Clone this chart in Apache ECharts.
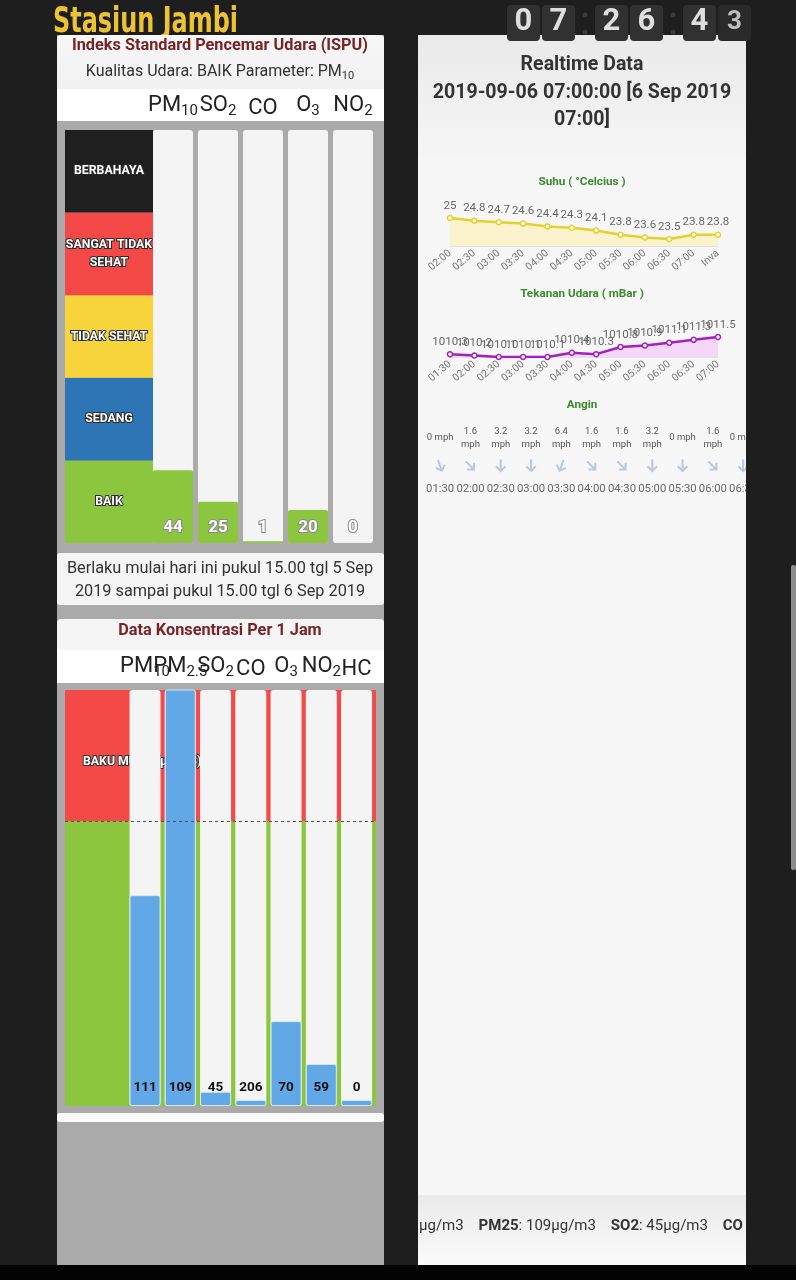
<!DOCTYPE html>
<html><head><meta charset="utf-8">
<script src="https://cdn.jsdelivr.net/npm/echarts@6/dist/echarts.min.js"></script>
<style>html,body{margin:0;padding:0;background:#1e1e1e;overflow:hidden}#c{width:796px;height:1280px}</style>
</head><body><div id="c"></div>
<script>
// ---------------- DATA ----------------
const ispuParams = ['PM{s|10}', 'SO{s|2}', 'CO', 'O{s|3}', 'NO{s|2}'];
const ispuValues = [44, 25, 1, 20, 0];
const ispuBands = ['BAIK', 'SEDANG', 'TIDAK SEHAT', 'SANGAT TIDAK\nSEHAT', 'BERBAHAYA'];
const ispuBandSize = [50, 50, 50, 50, 50];

const concParams = ['PM{s|10}', 'PM{s|2.5}', 'SO{s|2}', 'CO', 'O{s|3}', 'NO{s|2}', 'HC'];
const concValues = [111, 109, 45, 206, 70, 59, 0];
const concLimits = [150, 65, 900, 30000, 235, 400, 160];
const concLimitLabels = ['150', '65', '900', '30.000', '235', '400', '160'];
const bakuMutuPct = 100;
const concAxisMax = 146;

const suhuTimes = ['02:00', '02:30', '03:00', '03:30', '04:00', '04:30', '05:00', '05:30', '06:00', '06:30', '07:00', 'Inva'];
const suhuValues = [25, 24.8, 24.7, 24.6, 24.4, 24.3, 24.1, 23.8, 23.6, 23.5, 23.8, 23.8];

const tekananTimes = ['01:30', '02:00', '02:30', '03:00', '03:30', '04:00', '04:30', '05:00', '05:30', '06:00', '06:30', '07:00'];
const tekananValues = [1010.3, 1010.2, 1010.1, 1010.1, 1010.1, 1010.4, 1010.3, 1010.8, 1010.9, 1011.1, 1011.3, 1011.5];

const anginTimes = ['01:30', '02:00', '02:30', '03:00', '03:30', '04:00', '04:30', '05:00', '05:30', '06:00', '06:30', '07:00'];
const anginSpeeds = ['0', '1.6', '3.2', '3.2', '6.4', '1.6', '1.6', '3.2', '0', '1.6', '0', '1.6'];
const anginDir = [160, 135, 180, 180, 200, 135, 135, 180, 180, 135, 180, 180];

const clockDigits = ['0', '7', '2', '6', '4', '3'];

// ---------------- STYLE ----------------
const FONT = 'Roboto, "Noto Sans", sans-serif';
const bandColors = ['#8cc63e', '#2e75b6', '#f8d43c', '#f44a47', '#1f1f1f'];
const DARK = '#1e1e1e';

const chart = echarts.init(document.getElementById('c'), null, { width: 796, height: 1280 });

const G = [];
function rect(x, y, w, h, fill, z, r) { G.push({ type: 'rect', z: z || 0, silent: true, shape: { x: x, y: y, width: w, height: h, r: r || 0 }, style: { fill: fill } }); }
function txt(x, y, t, st, z, extra) { G.push(Object.assign({ type: 'text', z: z || 0, silent: true, x: x, y: y, style: Object.assign({ text: t, fontFamily: FONT, align: 'center', verticalAlign: 'middle' }, st) }, extra || {})); }
function grad(a, b) { return new echarts.graphic.LinearGradient(0, 0, 0, 1, [{ offset: 0, color: a }, { offset: 1, color: b }]); }

// page
rect(0, 0, 796, 1280, DARK);
rect(0, 1265, 796, 15, '#030303');
txt(53, 5, 'Stasiun Jambi', { align: 'left', verticalAlign: 'top', fontFamily: '"DejaVu Sans", sans-serif', fontWeight: 'bold', fontSize: 36, fill: '#edc332' }, 0, { scaleX: 0.665 });

// left panel
rect(57, 35, 327, 1230, '#aaaaaa');
rect(57, 35, 327, 54, grad('#f7f7f7', '#f1f1f1'), 0, [4, 4, 0, 0]);
rect(57, 89, 327, 32, '#ffffff');
txt(220, 46, 'Indeks Standard Pencemar Udara (ISPU)', { fontSize: 16.3, fontWeight: 'bold', fill: '#7b2226' });
txt(220, 72, 'Kualitas Udara: BAIK Parameter: PM{s|10}', { fontSize: 16, fill: '#333', rich: { s: { fontSize: 11, fill: '#333', fontFamily: FONT, padding: [9, 0, 0, 0] } } });
rect(57, 553, 327, 52, '#f5f5f5', 0, 3);
txt(220, 580, 'Berlaku mulai hari ini pukul 15.00 tgl 5 Sep\n2019 sampai pukul 15.00 tgl 6 Sep 2019', { fontSize: 16.3, fill: '#333', lineHeight: 23 });
rect(57, 619, 327, 31, '#f5f5f5', 0, [4, 4, 0, 0]);
txt(220, 631, 'Data Konsentrasi Per 1 Jam', { fontSize: 16.3, fontWeight: 'bold', fill: '#7b2226' });
rect(57, 650, 327, 33, '#ffffff');
rect(57, 1113, 327, 9, '#fafafa', 0, 3);

// right panel
rect(418, 35, 328, 1230, '#f7f7f7');
rect(418, 35, 328, 122, grad('#eaeaea', '#f5f5f5'));
txt(582, 65, 'Realtime Data', { fontSize: 19.5, fontWeight: 'bold', fill: '#333' });
txt(582, 93, '2019-09-06 07:00:00 [6 Sep 2019', { fontSize: 19.6, fontWeight: 'bold', fill: '#333' });
txt(582, 120, '07:00]', { fontSize: 19.6, fontWeight: 'bold', fill: '#333' });
txt(582, 182, 'Suhu ( °Celcius )', { fontSize: 11.7, fontWeight: 'bold', fill: '#3a8a2e' });
txt(582, 294, 'Tekanan Udara ( mBar )', { fontSize: 11.7, fontWeight: 'bold', fill: '#3a8a2e' });
txt(582, 405, 'Angin', { fontSize: 11.7, fontWeight: 'bold', fill: '#3a8a2e' });
rect(418, 1195, 328, 70, grad('#eaeaea', '#fbfbfb'));
txt(419, 1226, 'µg/m3    {b|PM25}: 109µg/m3    {b|SO2}: 45µg/m3    {b|CO}', { align: 'left', fontSize: 15, fill: '#333', rich: { b: { fontSize: 15, fontWeight: 'bold', fill: '#333', fontFamily: FONT } } });

// covers for clipped content to the right of the right panel
rect(746, 415, 50, 90, DARK, 10);
rect(746, 1195, 50, 70, DARK, 10);
rect(791, 565, 5, 305, '#8d8d8d', 10, 2);

// clock
const boxX = [507, 542, 595, 630, 683, 718];
clockDigits.forEach(function (d, i) {
  const last = i === clockDigits.length - 1;
  rect(boxX[i], 5, 33, 36, last ? '#2a2a2a' : '#313131', 10, 4);
  txt(boxX[i] + 16.5, 22.5, d, { fontSize: last ? 26 : 31, fontWeight: 'bold', fill: last ? '#bdbdbd' : '#dedede' }, 11);
});
[585, 673].forEach(function (x) {
  G.push({ type: 'circle', z: 10, silent: true, shape: { cx: x, cy: 15, r: 2.5 }, style: { fill: '#3a3a3a' } });
  G.push({ type: 'circle', z: 10, silent: true, shape: { cx: x, cy: 32, r: 2.5 }, style: { fill: '#3a3a3a' } });
});

// ---------------- AXES ----------------
const subRich = { s: { fontSize: 15, color: '#222', fontFamily: FONT, padding: [12, 0, 0, 0] } };
const hiddenCat = function (g) { return { gridIndex: g, type: 'category', data: [''], show: false }; };

const option = {
  animation: false,
  graphic: { elements: G },
  grid: [
    { left: 65, top: 130, width: 88, height: 413 },
    { left: 150.5, top: 130, width: 225, height: 413 },
    { left: 65, top: 690, width: 311, height: 416 },
    { left: 127.4, top: 690, width: 246.8, height: 416 },
    { left: 450, top: 218, width: 268, height: 28 },
    { left: 450, top: 337, width: 268, height: 20 },
    { left: 425, top: 452, width: 363.6, height: 28 }
  ],
  xAxis: [
    hiddenCat(0),
    { gridIndex: 1, type: 'category', position: 'top', data: ispuParams, axisLine: { show: false }, axisTick: { show: false },
      axisLabel: { interval: 0, fontSize: 22, color: '#222', fontFamily: FONT, margin: 11, rich: subRich } },
    hiddenCat(2),
    { gridIndex: 3, type: 'category', position: 'top', data: concParams, axisLine: { show: false }, axisTick: { show: false },
      axisLabel: { interval: 0, fontSize: 22, color: '#222', fontFamily: FONT, margin: 10, rich: subRich } },
    { gridIndex: 4, type: 'category', boundaryGap: false, data: suhuTimes, axisLine: { lineStyle: { color: '#e2e2e2' } }, axisTick: { show: false },
      axisLabel: { interval: 0, rotate: 40, fontSize: 10.5, color: '#777', fontFamily: FONT, margin: 6 } },
    { gridIndex: 5, type: 'category', boundaryGap: false, data: tekananTimes, axisLine: { lineStyle: { color: '#e2e2e2' } }, axisTick: { show: false },
      axisLabel: { interval: 0, rotate: 40, fontSize: 10.5, color: '#777', fontFamily: FONT, margin: 6 } },
    { gridIndex: 6, type: 'category', data: anginTimes, axisLine: { show: false }, axisTick: { show: false },
      axisLabel: { interval: 0, fontSize: 11.3, color: '#666', fontFamily: FONT, margin: 4 } },
    { gridIndex: 6, type: 'category', position: 'top', data: anginSpeeds, axisLine: { show: false }, axisTick: { show: false },
      axisLabel: { interval: 0, fontSize: 9.5, lineHeight: 13, color: '#555', fontFamily: FONT, margin: 14, verticalAlign: 'middle',
        formatter: function (v) { return v === '0' ? '0 mph' : v + '\nmph'; } } }
  ],
  yAxis: [
    { gridIndex: 0, type: 'value', min: 0, max: 250, show: false },
    { gridIndex: 1, type: 'value', min: 0, max: 250, show: false },
    { gridIndex: 2, type: 'value', min: 0, max: concAxisMax, show: false },
    { gridIndex: 3, type: 'value', min: 0, max: concAxisMax, show: false },
    { gridIndex: 4, type: 'value', min: 23, max: 25, show: false },
    { gridIndex: 5, type: 'value', min: 1010.1, max: 1011.5, show: false },
    { gridIndex: 6, type: 'value', min: 0, max: 1, show: false }
  ],
  series: []
};

// ISPU band column
ispuBands.forEach(function (name, i) {
  option.series.push({ type: 'bar', xAxisIndex: 0, yAxisIndex: 0, stack: 'band', barWidth: '100%', z: 1, silent: true,
    data: [ispuBandSize[i]], itemStyle: { color: bandColors[i] },
    label: { show: true, position: 'inside', formatter: name, color: '#fff', fontSize: 12.3, fontWeight: 'bold', fontFamily: FONT,
      lineHeight: 18, textBorderColor: '#2a2a2a', textBorderWidth: 2 } });
});
// ISPU bars
option.series.push({ type: 'bar', xAxisIndex: 1, yAxisIndex: 1, z: 2, barWidth: 40, data: ispuValues,
  showBackground: true, backgroundStyle: { color: '#f4f4f4', borderRadius: 3 },
  itemStyle: { color: '#8cc63e', borderRadius: [2, 2, 2, 2] },
  label: { show: true, position: 'insideBottom', distance: 7, color: '#fff', fontSize: 17, fontWeight: 'bold', fontFamily: FONT,
    textBorderColor: '#8a8a8a', textBorderWidth: 2 } });

// Concentration backdrop (baku mutu)
option.series.push({ type: 'bar', xAxisIndex: 2, yAxisIndex: 2, stack: 'bm', barWidth: '100%', z: 1, silent: true,
  data: [bakuMutuPct], itemStyle: { color: '#8cc63e' } });
option.series.push({ type: 'bar', xAxisIndex: 2, yAxisIndex: 2, stack: 'bm', barWidth: '100%', z: 1, silent: true,
  data: [concAxisMax - bakuMutuPct], itemStyle: { color: '#f44a47' },
  label: { show: true, position: [18, 72], align: 'left', verticalAlign: 'middle', formatter: 'BAKU MUTU (µg/m3)', color: '#fff',
    fontSize: 12.3, fontWeight: 'bold', fontFamily: FONT, textBorderColor: '#333', textBorderWidth: 2 } });
// Concentration bars
option.series.push({ type: 'bar', xAxisIndex: 3, yAxisIndex: 3, z: 2, barWidth: 31, barMinHeight: 6,
  data: concValues.map(function (v, i) { return v / concLimits[i] * 100; }),
  showBackground: true, backgroundStyle: { color: '#f4f4f4', borderRadius: 3 },
  itemStyle: { color: '#63a8e6', borderColor: '#d3e7f7', borderWidth: 1, borderRadius: 2 },
  label: { show: true, position: 'insideBottom', distance: 11, color: '#111', fontSize: 13.5, fontWeight: 'bold', fontFamily: FONT,
    formatter: function (p) { return concValues[p.dataIndex]; } } });
// limit labels
option.series.push({ type: 'scatter', xAxisIndex: 3, yAxisIndex: 3, z: 4, symbolSize: 1, itemStyle: { opacity: 0 }, silent: true,
  data: concLimits.map(function (v, i) { return [i, 111.3]; }),
  label: { show: true, position: 'inside', offset: [-4, 0], fontSize: 14, color: '#222', fontFamily: FONT,
    formatter: function (p) { return concLimitLabels[p.dataIndex]; } } });
// dashed baku mutu line
option.series.push({ type: 'line', xAxisIndex: 2, yAxisIndex: 2, z: 5, data: [],
  markLine: { silent: true, symbol: 'none', label: { show: false }, lineStyle: { color: '#555', type: [3, 3], width: 1 }, data: [{ yAxis: bakuMutuPct }] } });

// Suhu
option.series.push({ type: 'line', xAxisIndex: 4, yAxisIndex: 4, data: suhuValues, symbol: 'circle', symbolSize: 5,
  lineStyle: { color: '#e8d02a', width: 2.5 }, itemStyle: { color: '#fff', borderColor: '#e8d02a', borderWidth: 1.5 },
  areaStyle: { color: '#fbf1bb', origin: 'start' },
  label: { show: true, position: 'top', distance: 3, fontSize: 11.5, color: '#666', fontFamily: FONT } });
// Tekanan
option.series.push({ type: 'line', xAxisIndex: 5, yAxisIndex: 5, data: tekananValues, symbol: 'circle', symbolSize: 5,
  lineStyle: { color: '#a41fc2', width: 2.5 }, itemStyle: { color: '#fff', borderColor: '#a41fc2', borderWidth: 1.5 },
  areaStyle: { color: '#f3cbf9', origin: 'start' },
  label: { show: true, position: 'top', distance: 3, fontSize: 11.5, color: '#666', fontFamily: FONT } });
// Angin arrows
option.series.push({ type: 'scatter', xAxisIndex: 6, yAxisIndex: 6, silent: true,
  symbol: 'path://M4,0 L6,0 L6,9 L9,6 L10.4,7.4 L5,12.8 L-0.4,7.4 L1,6 L4,9 Z', symbolSize: [11, 13],
  itemStyle: { color: '#a6bdd8' },
  data: anginTimes.map(function (t, i) { return { value: [i, 0.5], symbolRotate: 180 - anginDir[i] }; }) });

chart.setOption(option);
</script>
</body></html>
